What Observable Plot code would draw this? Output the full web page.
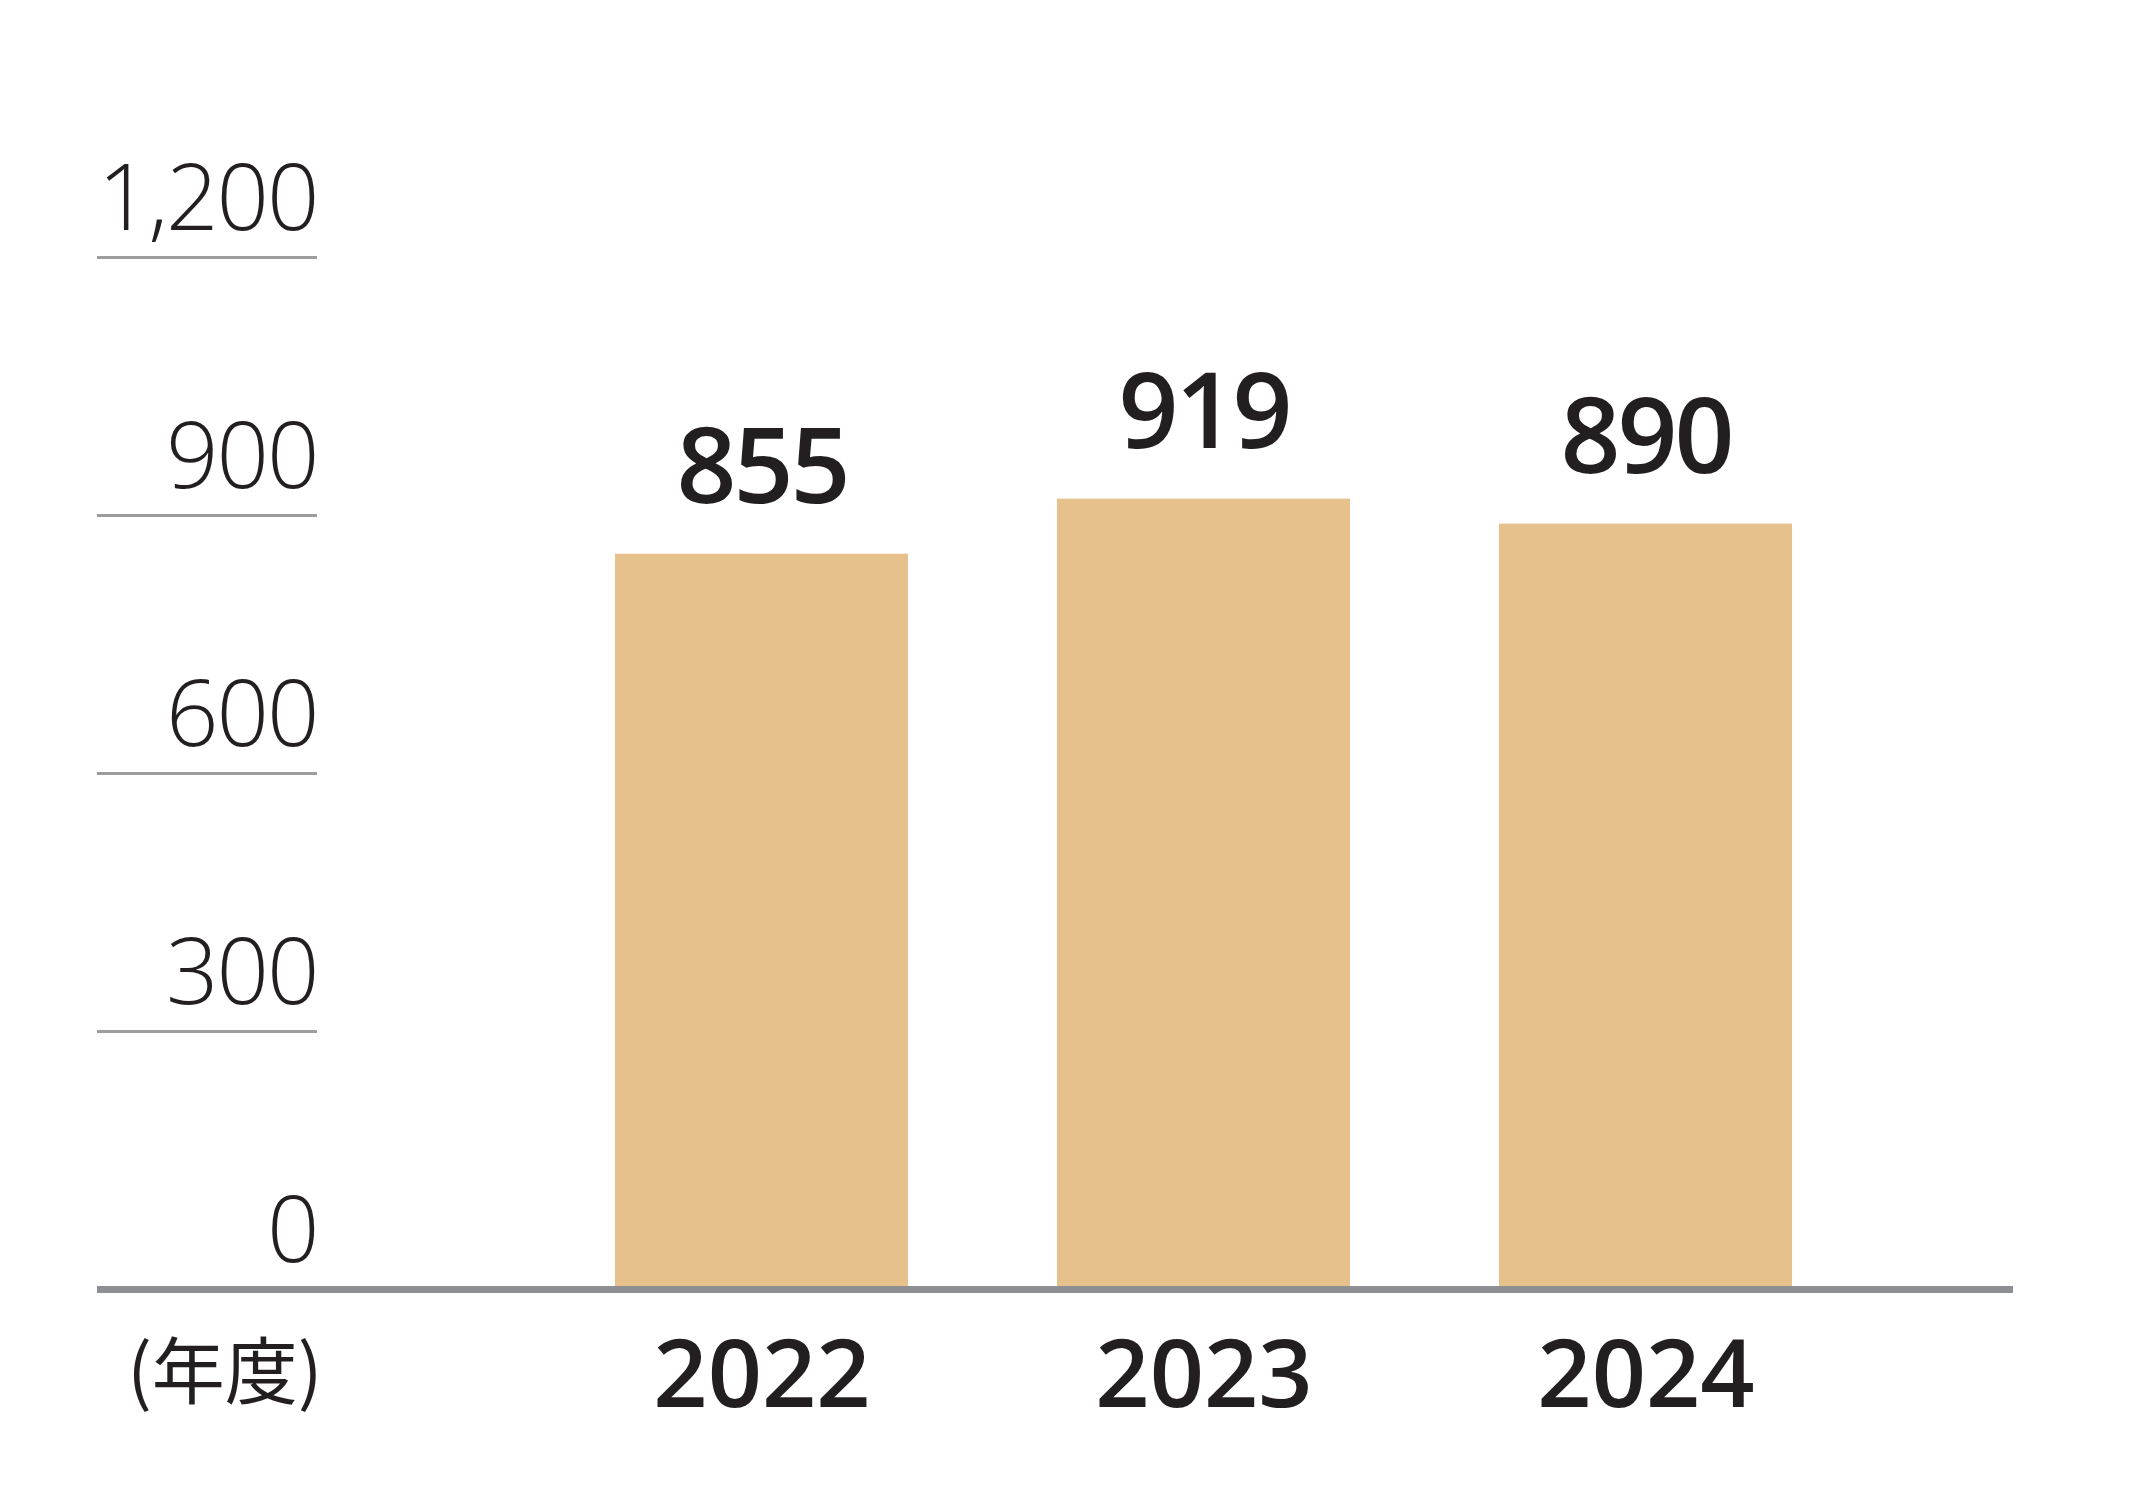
<!DOCTYPE html>
<html>
<head>
<meta charset="utf-8">
<script src="https://cdn.jsdelivr.net/npm/d3@7"></script>
<script src="https://cdn.jsdelivr.net/npm/@observablehq/plot@0.6"></script>
<style>
  html, body { margin: 0; padding: 0; background: #ffffff; }
  #chart svg { display: block; }
  g[aria-label="y-axis tick label"] text { letter-spacing: -2px; }
  g[aria-label="text"][font-weight="600"] text { letter-spacing: -3px; }
</style>
</head>
<body>
<div id="chart"></div>
<script>
const years = ["2022", "2023", "2024"];
const values = [855, 919, 890];
const yTicks = [0, 300, 600, 900, 1200];
const baseTick = [0];
const unitLabel = ["(年度)"];

const data = years.map((y, i) => ({year: y, value: values[i]}));

const ink = "#231f20";
const barColor = "#e7c18b";
const gridColor = "#9d9d9f";
const baseColor = "#8e8f92";

const chart = Plot.plot({
  width: 2154,
  height: 1512,
  marginLeft: 317,
  marginRight: 141,
  marginTop: 257,
  marginBottom: 223,
  style: {background: "#ffffff", color: ink, fontFamily: "'Open Sans', 'Noto Sans', sans-serif", overflow: "visible"},
  x: {domain: years, paddingInner: 0.336, paddingOuter: 0.5835, align: 0.574, axis: null},
  y: {domain: [0, 1200], axis: null},
  marks: [
    Plot.barY(data, {x: "year", y: "value", fill: barColor}),
    // short gridlines on the left
    Plot.axisY(yTicks, {
      anchor: "left", tickSize: 220, stroke: gridColor, strokeWidth: 3,
      tickFormat: () => "", label: null
    }),
    // tick labels sitting above the gridlines
    Plot.axisY(yTicks, {
      anchor: "left", tickSize: 0, tickPadding: 0,
      tickFormat: d3.format(","), fontSize: 92, fontWeight: 300, fill: ink,
      lineAnchor: "bottom", dy: -28, textAnchor: "end", label: null
    }),
    // thick baseline left part
    Plot.axisY(baseTick, {
      anchor: "left", tickSize: 220, stroke: baseColor, strokeWidth: 7,
      tickFormat: () => "", label: null
    }),
    Plot.ruleY(baseTick, {stroke: baseColor, strokeWidth: 7}),
    // value labels
    Plot.text(data, {
      x: "year", y: "value", text: d => String(d.value),
      fontSize: 105, fontWeight: 600, fill: ink, lineAnchor: "bottom", dy: -51
    }),
    // year labels
    Plot.axisX({
      anchor: "bottom", tickSize: 0, tickPadding: 117, fontSize: 95, fontWeight: 600,
      fill: ink, lineAnchor: "bottom", label: null
    }),
    // unit label
    Plot.text(unitLabel, {
      text: d => d, frameAnchor: "bottom-left", textAnchor: "end", lineAnchor: "bottom",
      dy: 108, dx: 5, fontSize: 73, fontWeight: 400, fill: ink,
      fontFamily: "'Noto Sans CJK JP', 'Noto Sans', sans-serif"
    })
  ]
});
document.getElementById("chart").appendChild(chart);
</script>
</body>
</html>
